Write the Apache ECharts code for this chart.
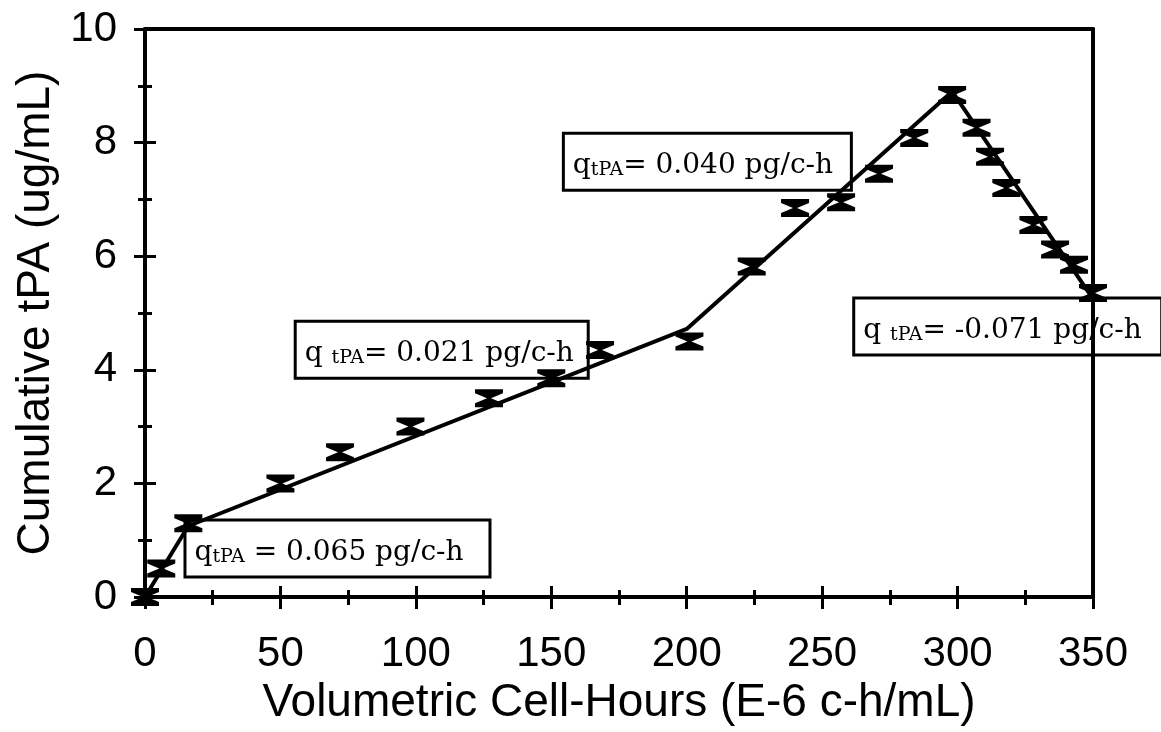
<!DOCTYPE html>
<html>
<head>
<meta charset="utf-8">
<script src="https://cdn.jsdelivr.net/npm/echarts@6/dist/echarts.min.js"></script>
<style>
  html, body { margin: 0; padding: 0; background: #fff; }
  #chart { width: 1161px; height: 732px; }
</style>
</head>
<body>
<div id="chart"></div>
<script>
// measured points (error-bar markers)
var cellHours = [0, 6, 16, 50, 72, 98, 127, 150, 168, 201, 224, 240, 257, 271, 284, 298, 307, 312, 318, 328, 336, 343, 350];
var tpa = [0, 0.5, 1.3, 2.0, 2.55, 3.0, 3.5, 3.85, 4.35, 4.5, 5.82, 6.85, 6.95, 7.45, 8.08, 8.84, 8.26, 7.75, 7.2, 6.55, 6.12, 5.85, 5.35];

// piecewise fit line
var fitHours = [0, 6, 16, 200, 298, 350];
var fitTpa = [0, 0.47, 1.25, 4.72, 8.9, 5.25];

// annotation text values (specific productivity)
var qValues = ['0.065', '0.021', '0.040', '-0.071'];

var xTicks = { min: 0, max: 350, interval: 50 };
var yTicks = { min: 0, max: 10, interval: 2 };

// annotation box anchors (top-left, data coords) and box widths
var noteAnchors = [[15.5, 1.32], [56.2, 4.82], [155.2, 8.13], [262.4, 5.23]];
var noteWidths = [286, 274, 269, 289];
var noteSubGap = ['', ' ', '', ' '];
var noteEqGap = [' = ', '= ', '= ', '= '];

var myChart = echarts.init(document.getElementById('chart'));

var hourglass = 'path://M0,0 L28,0 L28,4 L16,9 L28,14 L28,18 L0,18 L0,14 L12,9 L0,4 Z';

var pts = cellHours.map(function (x, i) { return [x, tpa[i]]; });
var fit = fitHours.map(function (x, i) { return [x, fitTpa[i]]; });
var notes = noteAnchors.map(function (p, i) {
  return {
    value: p,
    label: {
      width: noteWidths[i],
      formatter: '{q|q' + noteSubGap[i] + '}{s|tPA}{t|' + noteEqGap[i] + qValues[i] + ' pg/c-h}'
    }
  };
});

var black = '#000';
var labelFont = 'Liberation Sans, Arial, sans-serif';

var option = {
  animation: false,
  backgroundColor: '#fff',
  grid: { left: 145, right: 68, top: 29, bottom: 135 },
  xAxis: [
    {
      type: 'value', min: xTicks.min, max: xTicks.max, interval: xTicks.interval,
      position: 'bottom',
      axisLine: { show: true, onZero: false, lineStyle: { color: black, width: 4 } },
      axisTick: { show: true, inside: false, length: 12, lineStyle: { color: black, width: 3 } },
      minorTick: { show: true, splitNumber: 2, length: 8, lineStyle: { color: black, width: 3 } },
      splitLine: { show: false },
      axisLabel: { color: black, fontSize: 42, fontFamily: labelFont, margin: 36 },
      name: 'Volumetric Cell-Hours (E-6 c-h/mL)',
      nameLocation: 'middle',
      nameGap: 74,
      nameTextStyle: { color: black, fontSize: 46, fontFamily: labelFont }
    },
    {
      type: 'value', min: xTicks.min, max: xTicks.max, interval: xTicks.interval,
      position: 'bottom',
      axisLine: { show: false, onZero: false },
      axisTick: { show: true, inside: true, length: 11, lineStyle: { color: black, width: 3 } },
      minorTick: { show: true, splitNumber: 2, length: 7, lineStyle: { color: black, width: 3 } },
      splitLine: { show: false },
      axisLabel: { show: false }
    },
    {
      type: 'value', min: xTicks.min, max: xTicks.max,
      position: 'top',
      axisLine: { show: true, onZero: false, lineStyle: { color: black, width: 4 } },
      axisTick: { show: false },
      splitLine: { show: false },
      axisLabel: { show: false }
    }
  ],
  yAxis: [
    {
      type: 'value', min: yTicks.min, max: yTicks.max, interval: yTicks.interval,
      position: 'left',
      axisLine: { show: true, onZero: false, lineStyle: { color: black, width: 4 } },
      axisTick: { show: true, inside: false, length: 11, lineStyle: { color: black, width: 3 } },
      minorTick: { show: true, splitNumber: 2, length: 7, lineStyle: { color: black, width: 3 } },
      splitLine: { show: false },
      axisLabel: { color: black, fontSize: 42, fontFamily: labelFont, margin: 28 },
      name: 'Cumulative tPA (ug/mL)',
      nameLocation: 'middle',
      nameGap: 84,
      nameTextStyle: { color: black, fontSize: 46, fontFamily: labelFont }
    },
    {
      type: 'value', min: yTicks.min, max: yTicks.max, interval: yTicks.interval,
      position: 'left',
      axisLine: { show: false, onZero: false },
      axisTick: { show: true, inside: true, length: 11, lineStyle: { color: black, width: 3 } },
      minorTick: { show: true, splitNumber: 2, length: 7, lineStyle: { color: black, width: 3 } },
      splitLine: { show: false },
      axisLabel: { show: false }
    },
    {
      type: 'value', min: yTicks.min, max: yTicks.max,
      position: 'right',
      z: 6,
      axisLine: { show: true, onZero: false, lineStyle: { color: black, width: 4 } },
      axisTick: { show: false },
      splitLine: { show: false },
      axisLabel: { show: false }
    }
  ],
  series: [
    {
      name: 'notes',
      type: 'scatter',
      z: 1,
      symbol: 'rect',
      symbolSize: 1,
      itemStyle: { color: 'rgba(0,0,0,0)', opacity: 1 },
      silent: true,
      data: notes,
      label: {
        show: true,
        position: [0, 0],
        align: 'left',
        verticalAlign: 'top',
        height: 36,
        padding: [9, 8, 9, 8],
        backgroundColor: '#fff',
        borderColor: black,
        borderWidth: 3,
        rich: {
          q: { fontFamily: 'DejaVu Serif', fontSize: 28, color: black, verticalAlign: 'bottom', lineHeight: 36 },
          s: { fontFamily: 'DejaVu Serif', fontSize: 19, color: black, verticalAlign: 'bottom', lineHeight: 28 },
          t: { fontFamily: 'DejaVu Serif', fontSize: 28, color: black, verticalAlign: 'bottom', lineHeight: 36 }
        }
      }
    },
    {
      name: 'fit',
      type: 'line',
      z: 3,
      data: fit,
      symbol: 'none',
      lineStyle: { color: black, width: 4 }
    },
    {
      name: 'tPA',
      type: 'scatter',
      z: 4,
      data: pts,
      symbol: hourglass,
      symbolSize: [28, 18],
      itemStyle: { color: black, opacity: 1 }
    }
  ]
};

myChart.setOption(option);
</script>
</body>
</html>
